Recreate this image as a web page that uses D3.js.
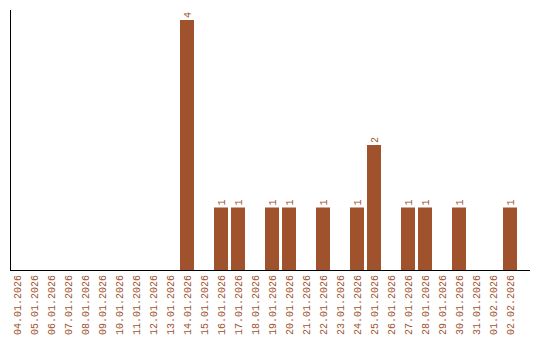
<!DOCTYPE html>
<html>
<head>
  <meta charset="utf-8">
  <script src="https://d3js.org/d3.v7.min.js"></script>
  <style>
    body { margin: 0; background: #fff; }
    text { font-family: "Liberation Mono", monospace; font-size: 10px; fill: #a0522d; }
  </style>
</head>
<body>
<div id="chart"></div>
<script>
const dates = ["04.01.2026","05.01.2026","06.01.2026","07.01.2026","08.01.2026","09.01.2026",
  "10.01.2026","11.01.2026","12.01.2026","13.01.2026","14.01.2026","15.01.2026","16.01.2026",
  "17.01.2026","18.01.2026","19.01.2026","20.01.2026","21.01.2026","22.01.2026","23.01.2026",
  "24.01.2026","25.01.2026","26.01.2026","27.01.2026","28.01.2026","29.01.2026","30.01.2026",
  "31.01.2026","01.02.2026","02.02.2026"];
const counts = [0,0,0,0,0,0,0,0,0,0,4,0,1,1,0,1,1,0,1,0,1,2,0,1,1,0,1,0,0,1];

const width = 540, height = 340;
const plotLeft = 10, plotTop = 10, plotBottom = 270, axisRight = 530;
const barColor = "#a0522d";

const svg = d3.select("#chart").append("svg")
  .attr("width", width)
  .attr("height", height);

const x = d3.scaleBand()
  .domain(dates)
  .range([plotLeft - 1.5, plotLeft + 508.5])
  .paddingInner(3 / 17)
  .paddingOuter(1.5 / 17);

const y = d3.scaleLinear()
  .domain([0, d3.max(counts) * 1.04])
  .range([plotBottom, plotTop]);

const data = dates.map((d, i) => ({ date: d, value: counts[i] }));

// bars
svg.selectAll("rect.bar")
  .data(data.filter(d => d.value > 0))
  .join("rect")
  .attr("class", "bar")
  .attr("x", d => x(d.date))
  .attr("y", d => y(d.value))
  .attr("width", x.bandwidth())
  .attr("height", d => plotBottom - y(d.value))
  .attr("fill", barColor);

// value labels
svg.selectAll("text.val")
  .data(data.filter(d => d.value > 0))
  .join("text")
  .attr("class", "val")
  .attr("transform", d => `translate(${x(d.date) + x.bandwidth() / 2},${y(d.value) - 2}) rotate(-90)`)
  .attr("dy", "0.35em")
  .attr("text-anchor", "start")
  .text(d => d.value);

// axes lines
svg.append("line")
  .attr("x1", plotLeft + 0.5).attr("x2", plotLeft + 0.5)
  .attr("y1", plotTop).attr("y2", plotBottom + 0.5)
  .attr("stroke", "#000");
svg.append("line")
  .attr("x1", plotLeft).attr("x2", axisRight)
  .attr("y1", plotBottom + 0.5).attr("y2", plotBottom + 0.5)
  .attr("stroke", "#000");

// date labels
svg.selectAll("text.tick")
  .data(dates)
  .join("text")
  .attr("class", "tick")
  .attr("transform", d => `translate(${x(d) + x.bandwidth() / 2},${plotBottom + 5}) rotate(-90)`)
  .attr("dy", "0.35em")
  .attr("text-anchor", "end")
  .text(d => d);
</script>
</body>
</html>
